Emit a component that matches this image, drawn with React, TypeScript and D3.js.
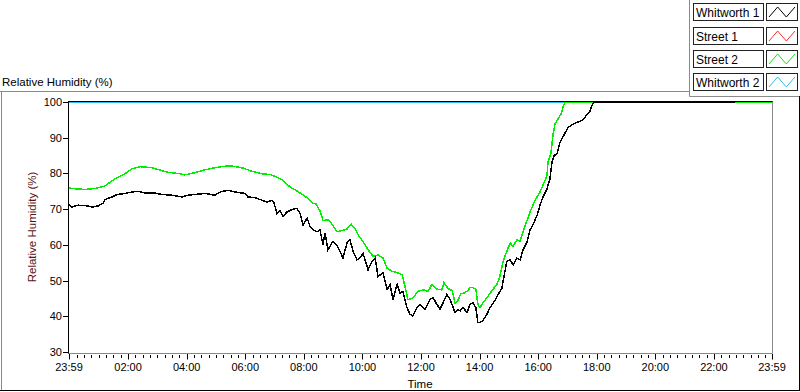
import * as d3 from "d3";
import React from "react";

// legend entries, same order as in the chart
const seriesNames = ["Whitworth 1", "Street 1", "Street 2", "Whitworth 2"];
const seriesColors = ["#000000", "#ff3030", "#00ee00", "#33bbee"];

// time is in hours after the 23:59 start, value is RH %
const whitworth1: [number, number][] = [
  [0.0, 71.3], [0.1, 70.6], [0.31, 71.1], [0.55, 71.0], [0.79, 70.6], [0.99, 70.9],
  [1.16, 71.6], [1.23, 72.7], [1.47, 73.4], [1.64, 74.1], [1.91, 74.4], [2.15, 74.8],
  [2.36, 75.0], [2.59, 74.5], [2.94, 74.5], [3.17, 74.1], [3.52, 73.9], [3.86, 73.4],
  [4.06, 73.9], [4.3, 74.1], [4.64, 74.4], [4.98, 73.9], [5.16, 74.8], [5.43, 75.3],
  [5.67, 74.8], [6.01, 74.4], [6.11, 73.4], [6.35, 73.2], [6.59, 72.5], [6.76, 72.0],
  [6.93, 72.5], [7.0, 71.7], [7.1, 68.8], [7.2, 69.7], [7.31, 68.0], [7.44, 69.2],
  [7.61, 69.9], [7.78, 70.2], [7.89, 68.8], [7.99, 65.6], [8.13, 67.5], [8.23, 65.1],
  [8.33, 64.2], [8.47, 63.7], [8.57, 64.2], [8.67, 60.0], [8.74, 63.3], [8.84, 58.6],
  [9.01, 61.0], [9.15, 59.8], [9.25, 58.2], [9.35, 56.3], [9.49, 60.5], [9.59, 61.4],
  [9.7, 58.2], [9.83, 55.8], [9.93, 56.3], [10.04, 57.6], [10.21, 53.0], [10.34, 55.3],
  [10.45, 56.3], [10.55, 51.2], [10.72, 52.1], [10.86, 47.5], [10.96, 48.9], [11.06, 44.7],
  [11.2, 48.9], [11.3, 46.5], [11.4, 47.0], [11.54, 42.4], [11.64, 40.6], [11.74, 40.1],
  [11.88, 42.4], [11.98, 43.3], [12.15, 41.9], [12.32, 44.7], [12.43, 45.2], [12.56, 43.3],
  [12.67, 42.0], [12.77, 43.8], [12.9, 46.1], [13.01, 44.7], [13.18, 41.0], [13.28, 41.9],
  [13.35, 41.5], [13.45, 42.4], [13.59, 41.1], [13.69, 43.3], [13.79, 43.8], [13.89, 42.4],
  [13.96, 38.2], [14.03, 38.2], [14.13, 38.8], [14.27, 40.6], [14.37, 42.4], [14.54, 44.4],
  [14.65, 46.1], [14.78, 47.9], [14.85, 51.2], [14.95, 55.4], [15.06, 55.8], [15.16, 54.4],
  [15.29, 56.3], [15.4, 55.8], [15.5, 58.6], [15.64, 60.9], [15.74, 64.2], [15.84, 65.6],
  [15.98, 68.3], [16.08, 71.1], [16.18, 73.4], [16.32, 75.7], [16.42, 78.5], [16.49, 83.1],
  [16.56, 85.0], [16.66, 85.5], [16.76, 88.7], [16.86, 90.2], [17.04, 92.9], [17.21, 93.8],
  [17.38, 94.4], [17.55, 95.0], [17.68, 96.5], [17.79, 97.5], [17.85, 99.0], [17.92, 100],
  [22.74, 100],
];

const street1: [number, number][] = [];

const street2: [number, number][] = [
  [0.0, 75.9], [0.2, 75.7], [0.55, 75.5], [0.89, 75.8], [1.23, 76.5], [1.33, 77.1],
  [1.57, 78.5], [1.91, 79.9], [2.15, 81.3], [2.42, 81.9], [2.83, 81.6], [3.17, 80.8],
  [3.38, 80.3], [3.72, 80.0], [3.96, 79.6], [4.3, 80.2], [4.64, 81.0], [4.98, 81.6],
  [5.39, 82.1], [5.6, 82.0], [5.94, 81.5], [6.25, 80.6], [6.59, 79.9], [6.86, 79.7],
  [7.03, 79.2], [7.27, 78.2], [7.44, 76.9], [7.61, 75.9], [7.78, 75.1], [7.95, 74.2],
  [8.16, 73.0], [8.33, 71.6], [8.43, 71.5], [8.57, 69.5], [8.67, 66.8], [8.84, 67.0],
  [8.94, 66.2], [9.15, 63.7], [9.32, 64.0], [9.49, 64.4], [9.63, 65.8], [9.76, 64.7],
  [9.87, 62.8], [10.04, 60.9], [10.21, 58.6], [10.38, 56.8], [10.55, 57.2], [10.72, 56.3],
  [10.86, 53.5], [11.03, 52.6], [11.2, 52.2], [11.37, 51.7], [11.47, 48.4], [11.57, 44.7],
  [11.74, 45.1], [11.91, 47.0], [12.09, 47.4], [12.26, 47.0], [12.39, 48.9], [12.56, 47.6],
  [12.73, 47.4], [12.8, 49.4], [12.94, 47.8], [13.08, 47.2], [13.18, 43.7], [13.28, 44.5],
  [13.38, 46.3], [13.49, 46.5], [13.62, 47.2], [13.69, 48.0], [13.79, 48.0], [13.89, 47.6],
  [13.96, 43.3], [14.03, 42.4], [14.13, 43.8], [14.27, 45.2], [14.44, 47.2], [14.61, 48.9],
  [14.71, 51.2], [14.82, 55.4], [14.99, 59.1], [15.06, 60.5], [15.16, 59.6], [15.29, 61.4],
  [15.4, 61.0], [15.5, 63.7], [15.64, 66.9], [15.74, 69.2], [15.91, 72.5], [16.08, 74.8],
  [16.18, 76.7], [16.32, 79.4], [16.35, 83.1], [16.45, 85.5], [16.52, 90.6], [16.59, 93.8],
  [16.69, 95.2], [16.8, 96.6], [16.86, 98.4], [16.93, 100], [24.0, 100],
];

const whitworth2: [number, number][] = [[0, 100], [24, 100]];

const timeTickLabels = ["23:59", "02:00", "04:00", "06:00", "08:00", "10:00", "12:00",
  "14:00", "16:00", "18:00", "20:00", "22:00", "23:59"];
const yTicks = [30, 40, 50, 60, 70, 80, 90, 100];

// hours after the 23:59 start for a clock label
const toHours = (s: string, i: number) => {
  if (i === timeTickLabels.length - 1) return 24;
  const [h, m] = s.split(":").map(Number);
  return (((h * 60 + m + 1) % 1440)) / 60;
};

const font = "'Liberation Sans', Arial, sans-serif";

export default function App() {
  const W = 800, H = 392;
  const left = 68, right = 772, top = 101, bottom = 353;

  const x = d3.scaleLinear().domain([0, 24]).range([69, 772]);
  const y = d3.scaleLinear().domain([30, 100]).range([352, 102]);

  const line = d3.line<[number, number]>().x((d) => x(d[0])).y((d) => y(d[1]));

  const majors = timeTickLabels.map((s, i) => toHours(s, i));
  const minors = d3.range(96).map((k) => 1 / 60 + k * 0.25)
    .filter((h) => majors.every((m) => Math.abs(m - h) > 0.05));

  // drawing order: last one ends up on top
  const drawOrder = [
    { data: whitworth2, color: seriesColors[3] },
    { data: street1, color: seriesColors[1] },
    { data: street2, color: seriesColors[2] },
    { data: whitworth1, color: seriesColors[0] },
  ];

  const legendRows = [3, 27, 50, 73];

  return (
    <svg width={W} height={H} style={{ position: "absolute", left: 0, top: 0, background: "#fff" }}
      fontFamily={font}>
      <defs>
        <clipPath id="plotClip">
          <rect x={left} y={top - 1} width={right - left} height={bottom - top + 1} />
        </clipPath>
      </defs>

      {/* outer panel */}
      <line x1={0} y1={91.5} x2={689.5} y2={91.5} stroke="#8a8a8a" />
      <line x1={689.5} y1={0} x2={689.5} y2={96.5} stroke="#8a8a8a" />
      <line x1={689.5} y1={96.5} x2={800} y2={96.5} stroke="#8a8a8a" />
      <line x1={1.5} y1={91} x2={1.5} y2={390} stroke="#8a8a8a" />
      <line x1={0} y1={390.5} x2={800} y2={390.5} stroke="#000" />
      <line x1={799.5} y1={96} x2={799.5} y2={391} stroke="#000" />

      <text x={2} y={86} fontSize={11.5} fill="#000">Relative Humidity (%)</text>

      {/* plot frame */}
      <rect x={left} y={top} width={right - left} height={bottom - top} fill="#fff" />
      <line x1={right + 0.5} y1={top} x2={right + 0.5} y2={bottom + 0.5} stroke="#8a8a8a" />
      <line x1={left} y1={bottom + 0.5} x2={right + 0.5} y2={bottom + 0.5} stroke="#8a8a8a" />

      <g clipPath="url(#plotClip)">
        {drawOrder.map((s, i) =>
          s.data.length ? (
            <path key={i} d={line(s.data) || ""} fill="none" stroke={s.color} strokeWidth={1.5}
              shapeRendering="crispEdges" />
          ) : null
        )}
      </g>

      <line x1={left} y1={top + 0.5} x2={right + 0.5} y2={top + 0.5} stroke="#000" />
      <line x1={left + 0.5} y1={top} x2={left + 0.5} y2={bottom + 0.5} stroke="#000" />

      {/* y axis */}
      {yTicks.map((t) => (
        <g key={t}>
          <line x1={63} x2={68} y1={Math.round(y(t)) + 0.5} y2={Math.round(y(t)) + 0.5} stroke="#000" />
          <text x={62} y={y(t) + 4} fontSize={11} textAnchor="end" fill="#000">{t}</text>
        </g>
      ))}
      <text transform={`translate(36,${(top + bottom) / 2}) rotate(-90)`} fontSize={11.5}
        textAnchor="middle" fill="#5a1212">Relative Humidity (%)</text>

      {/* x axis */}
      {minors.map((h, i) => (
        <line key={i} x1={Math.round(x(h)) + 0.5} x2={Math.round(x(h)) + 0.5} y1={355} y2={358} stroke="#000" />
      ))}
      {majors.map((h, i) => (
        <g key={i}>
          <line x1={Math.round(x(h)) + 0.5} x2={Math.round(x(h)) + 0.5} y1={354} y2={359.5} stroke="#000" />
          <text x={x(h)} y={371} fontSize={11} textAnchor="middle" fill="#000">{timeTickLabels[i]}</text>
        </g>
      ))}
      <text x={(left + right) / 2} y={388} fontSize={11.5} textAnchor="middle" fill="#000">Time</text>

      {/* legend */}
      {seriesNames.map((name, i) => {
        const ty = legendRows[i];
        const sx = d3.scaleLinear().domain([0, 3]).range([769, 795]);
        const sample: [number, number][] = [[0, 1], [1, 0], [2, 1], [3, 0]];
        return (
          <g key={name}>
            <rect x={693.5} y={ty + 0.5} width={70} height={17} fill="#fff" stroke="#222" />
            <text x={696} y={ty + 14} fontSize={12} fill="#000">{name}</text>
            <rect x={766.5} y={ty + 0.5} width={31} height={17} fill="#fff" stroke="#222" />
            <path d={d3.line<[number, number]>().x((d) => sx(d[0])).y((d) => ty + 4 + d[1] * 10)(sample) || ""}
              fill="none" stroke={seriesColors[i]} strokeWidth={1} />
          </g>
        );
      })}
    </svg>
  );
}
